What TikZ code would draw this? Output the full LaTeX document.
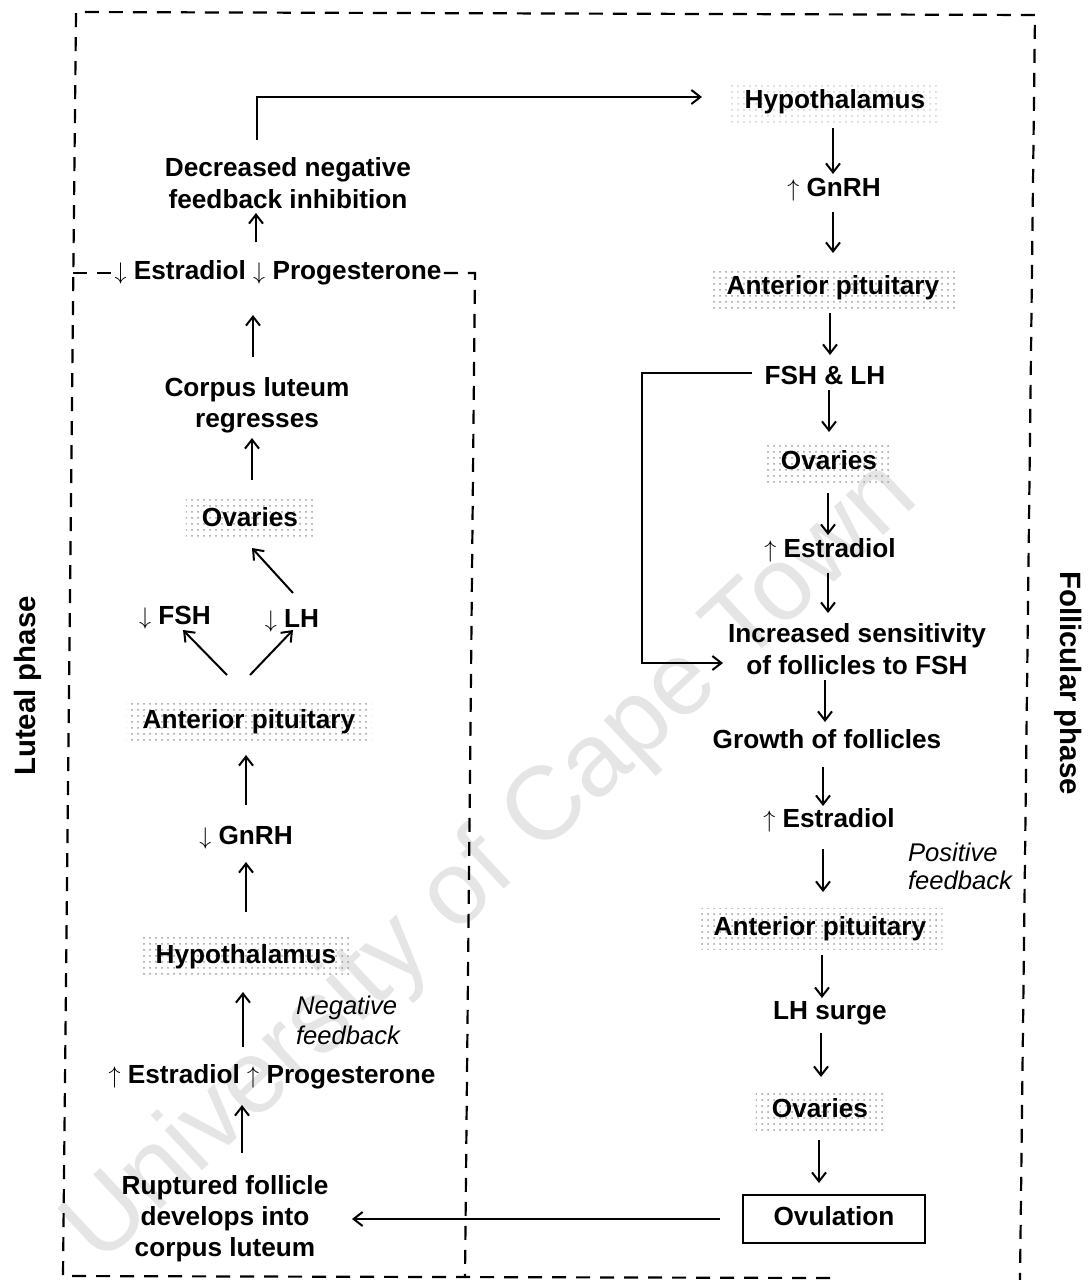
\documentclass[tikz,border=0pt]{standalone}
\usepackage{fontspec}
\setmainfont{Liberation Sans}
\usetikzlibrary{arrows.meta,patterns,calc}
\newcommand\upa{$\uparrow$}
\newcommand\dna{$\downarrow$}
\begin{document}
\begin{tikzpicture}[x=0.5pt,y=-0.5pt,
  txt/.style={font=\bfseries\fontsize{13.1}{16}\selectfont, inner xsep=1pt, inner ysep=0pt, text height=9.5pt, text depth=3pt},
  shade/.style={txt, pattern=dots, pattern color=black!38, inner xsep=8pt, inner ysep=4pt},
  multi/.style={font=\bfseries\fontsize{13.1}{15.5}\selectfont, align=center, inner sep=0pt},
  ital/.style={font=\itshape\fontsize{12.8}{15}\selectfont, align=left, inner sep=0pt},
  phase/.style={font=\bfseries\fontsize{14.7}{17}\selectfont, inner sep=0pt},
  obox/.style={txt, draw, line width=1.1pt, minimum width=91pt, minimum height=24pt},
  arr/.style={line width=1pt, -{Straight Barb[length=4.5pt,width=7pt]}},
  dsh/.style={line width=1.1pt, dash pattern=on 7pt off 5pt},
  wmark/.style={font=\fontsize{52}{60}\selectfont, text=black!10, inner sep=0pt}
]
\useasboundingbox (0,0) rectangle (1091,1280);

% watermark
\node[wmark, rotate=43] (wm) at (492,864) {University of Cape Town};

% phase labels
\node[phase, rotate=90] (luteal) at (28,686) {Luteal phase};
\node[phase, rotate=-90] (follic) at (1068,683) {Follicular phase};

% ---------- right column (follicular) ----------
\node[shade, pattern color=black!18] (hypR) at (835,102) {Hypothalamus};
\node[txt] (gnrhR) at (834,190) {\upa{} GnRH};
\node[shade] (apR1) at (833,288) {Anterior pituitary};
\node[txt] (fshlh) at (825,378) {FSH \& LH};
\node[shade] (ovR1) at (829,463) {Ovaries};
\node[txt] (estR1) at (830,551) {\upa{} Estradiol};
\node[multi, font=\bfseries\fontsize{13.1}{16}\selectfont] (inc) at (857,649) {Increased sensitivity\\of follicles to FSH};
\node[txt] (growth) at (827,742) {Growth of follicles};
\node[txt] (estR2) at (829,821) {\upa{} Estradiol};
\node[ital, font=\itshape\fontsize{12.8}{14}\selectfont] (posfb) at (960,866) {Positive\\feedback};
\node[shade] (apR2) at (820,929) {Anterior pituitary};
\node[txt] (lhs) at (830,1013) {LH surge};
\node[shade] (ovR2) at (820,1111) {Ovaries};
\node[obox] (ovul) at (834,1219) {Ovulation};

% ---------- left column (luteal) ----------
\node[multi, font=\bfseries\fontsize{13.1}{16}\selectfont] (dec) at (288,183) {Decreased negative\\feedback inhibition};
\node[txt] (ep) at (278,273) {\dna{} Estradiol \dna{} Progesterone};
\node[multi] (cl) at (257,405) {Corpus luteum\\regresses};
\node[shade] (ovL) at (250,520) {Ovaries};
\node[txt] (fshd) at (175,618) {\dna{} FSH};
\node[txt] (lhd) at (292,621) {\dna{} LH};
\node[shade] (apL) at (249,722) {Anterior pituitary};
\node[txt] (gnrhL) at (246,838) {\dna{} GnRH};
\node[shade] (hypL) at (246,957) {Hypothalamus};
\node[ital] (negfb) at (348,1020) {Negative\\feedback};
\node[txt] (ep2) at (272,1077) {\upa{} Estradiol \upa{} Progesterone};
\node[multi] (rupt) at (225,1219) {Ruptured follicle\\develops into\\corpus luteum};

% ---------- dashed phase boundaries ----------
\draw[dsh] (830,1278) -- (63,1276) -- (76,12) -- (1035,15) -- (1020,1280);
\draw[dsh] (73,273) -- (ep.west);
\draw[dsh] (ep.east) -- (475,273) -- (465,1276);

% ---------- right column arrows ----------
\draw[arr] ($(hypR)+(-2,26)$) -- ($(gnrhR)+(-1,-16)$);
\draw[arr] ($(gnrhR)+(-1,22)$) -- ($(apR1)+(0,-35)$);
\draw[arr] ($(apR1)+(-3,25)$) -- ($(fshlh)+(5,-23)$);
\draw[arr] ($(fshlh)+(4,12)$) -- ($(ovR1)+(0,-31)$);
\draw[arr] ($(ovR1)+(-1,30)$) -- ($(estR1)+(-2,-16)$);
\draw[arr] ($(estR1)+(-2,22)$) -- ($(inc)+(-29,-36)$);
\draw[arr] ($(inc)+(-32,31)$) -- ($(growth)+(-2,-20)$);
\draw[arr] ($(growth)+(-4,25)$) -- ($(estR2)+(-6,-15)$);
\draw[arr] ($(estR2)+(-6,28)$) -- ($(apR2)+(3,-37)$);
\draw[arr] ($(apR2)+(2,26)$) -- ($(lhs)+(-8,-15)$);
\draw[arr] ($(lhs)+(-9,20)$) -- ($(ovR2)+(1,-34)$);
\draw[arr] ($(ovR2)+(-1,29)$) -- ($(ovul)+(-15,-36)$);

% FSH & LH feedback loop to follicles
\draw[arr] ($(fshlh)+(-73,-5)$) -- ++(-110,0) |- ($(inc)+(-134,14)$);

% ---------- left column arrows ----------
\draw[arr] ($(ep)+(-22,-31)$) -- ($(dec)+(-32,30)$);
\draw[arr] ($(cl)+(-4,-48)$) -- ($(ep)+(-25,42)$);
\draw[arr] ($(ovL)+(2,-40)$) -- ($(cl)+(-5,33)$);
\draw[arr] ($(lhd)+(1,-28)$) -- ($(ovL)+(2,28)$);
\draw[arr] ($(apL)+(-22,-47)$) -- ($(fshd)+(8,12)$);
\draw[arr] ($(apL)+(1,-47)$) -- ($(lhd)+(1,9)$);
\draw[arr] ($(gnrhL)+(0,-33)$) -- ($(apL)+(-3,33)$);
\draw[arr] ($(hypL)+(0,-45)$) -- ($(gnrhL)+(0,24)$);
\draw[arr] ($(ep2)+(-29,-30)$) -- ($(hypL)+(-3,35)$);
\draw[arr] ($(rupt)+(17,-66)$) -- ($(ep2)+(-30,28)$);

% ---------- cross-phase arrows ----------
\draw[arr] ($(dec)+(-31,-43)$) |- ($(hypR)+(-133,-5)$);
\draw[arr] ($(ovul)+(-114,0)$) -- ($(rupt)+(127,0)$);
\end{tikzpicture}
\end{document}
